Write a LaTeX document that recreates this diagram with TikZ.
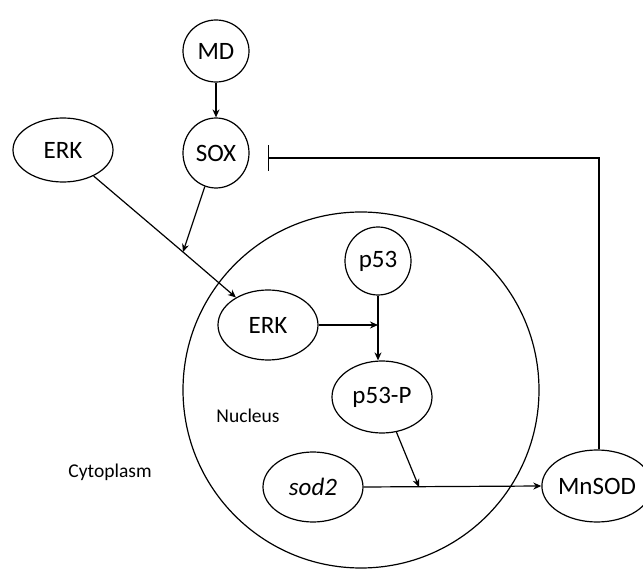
\documentclass[tikz,border=0pt]{standalone}
\usepackage{fontspec}
\setmainfont{Carlito}
\usetikzlibrary{shapes.geometric,arrows.meta}
\begin{document}
\begin{tikzpicture}[x=1pt,y=-1pt,
  el/.style={ellipse,draw,line width=1.2pt,inner sep=0pt,font=\fontsize{25}{29}\selectfont},
  lbl/.style={font=\fontsize{19.5}{23}\selectfont},
  conn/.style={line width=1.2pt},
  arr/.style={conn,-{Stealth[length=8pt,width=7pt]}},
  inhib/.style={conn,-{Bar[width=26pt,line width=1.4pt]}}]
\useasboundingbox (0,0) rectangle (643,577);
% nucleus
\draw[line width=1.2pt] (361,390) circle[radius=178];
\node[lbl] (nuc) at (248,416) {Nucleus};
\node[lbl] (cyto) at (110,472) {Cytoplasm};
% nodes
\node[el,minimum width=66pt,minimum height=62pt] (md) at (216,51) {MD};
\node[el,minimum width=66pt,minimum height=70pt] (sox) at (216,153) {SOX};
\node[el,minimum width=100pt,minimum height=64pt] (erk1) at (63,150) {ERK};
\node[el,minimum width=100pt,minimum height=70pt] (erk2) at (268,325) {ERK};
\node[el,minimum width=66pt,minimum height=68pt] (p53) at (378,261) {p53};
\node[el,minimum width=100pt,minimum height=72pt] (p53p) at (382,397) {p53-P};
\node[el,minimum width=100pt,minimum height=70pt] (sod) at (313,487) {\itshape sod2};
\node[el,minimum width=94pt,minimum height=72pt] (mnsod) at (597,486) {MnSOD};
% junctions
\coordinate (j1) at (183,252);
\coordinate (j2) at (378,325);
\coordinate (j3) at (419,487);
\coordinate (inh) at (268,158);
% connectors
\draw[arr] (md) -- (sox);
\draw[arr] (erk1) -- (j1) -- (erk2);
\draw[arr] (sox) -- (j1);
\draw[arr] (erk2.east |- j2) -- (j2);
\draw[arr] (p53) -- (p53 |- p53p.north);
\draw[arr] (p53p) -- (j3);
\draw[arr] (sod.east) -- (mnsod.west);
\draw[inhib] ([xshift=2pt]mnsod.north) |- (inh);
\end{tikzpicture}
\end{document}
